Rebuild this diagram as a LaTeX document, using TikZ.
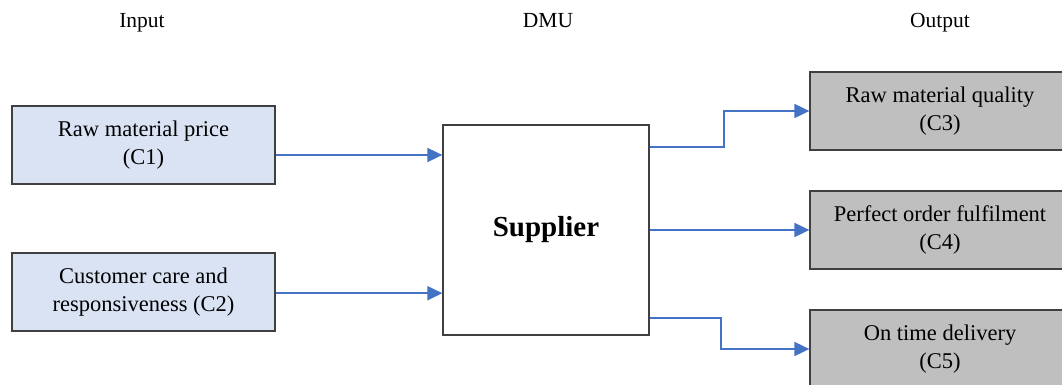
\documentclass[tikz,border=0pt]{standalone}
\usepackage{fontspec}
\setmainfont{Liberation Serif}
\usetikzlibrary{arrows.meta,positioning}
\definecolor{inblue}{HTML}{DAE3F3}
\definecolor{outgray}{HTML}{BFBFBF}
\definecolor{flowblue}{HTML}{4472C4}
\definecolor{edge}{HTML}{404040}
\tikzset{
  crit/.style={draw=edge,line width=1.3pt,align=center,inner sep=0pt,
    minimum height=78pt,font=\fontsize{22.5}{28.5}\selectfont},
  inbox/.style={crit,fill=inblue,minimum width=263pt},
  outbox/.style={crit,fill=outgray,minimum width=260pt},
  dmubox/.style={draw=edge,line width=1.3pt,fill=white,minimum width=206pt,
    minimum height=210pt,font=\fontsize{29}{34}\selectfont\bfseries},
  head/.style={anchor=base,font=\fontsize{21.5}{26}\selectfont},
  flow/.style={draw=flowblue,line width=1.8pt,-{Triangle[length=15pt,width=14pt]},
    flowblue}
}
\begin{document}
\begin{tikzpicture}[x=1pt,y=1pt]
  \clip (0,0) rectangle (1062,385);
  \fill[white] (0,0) rectangle (1062,385);

  \node (hin)  [head] at (142,357) {Input};
  \node (hdmu) [head] at (548,357) {DMU};
  \node (hout) [head] at (940,357) {Output};

  \node (c1) [inbox] at (143.5,240) {Raw material price\\(C1)};
  \node (c2) [inbox, below of=c1, node distance=147pt] {Customer care and\\responsiveness (C2)};
  \node (sup) [dmubox] at (546,155) {Supplier};
  \node (c4) [outbox] at (940,155) {Perfect order fulfilment\\(C4)};
  \node (c3) [outbox, above of=c4, node distance=119pt] {Raw material quality\\(C3)};
  \node (c5) [outbox, below of=c4, node distance=119pt] {On time delivery\\(C5)};

  \draw [flow] ([yshift=-10pt]c1.east) -- ([yshift=-10pt]c1.east -| sup.west);
  \draw [flow] ([yshift=-1.2pt]c2.east) -- ([yshift=-1.2pt]c2.east -| sup.west);
  \draw [flow] ([yshift=83pt]sup.east) -- ++(74,0) |- (c3.west);
  \draw [flow] (sup.east) -- (c4.west);
  \draw [flow] ([yshift=-88pt]sup.east) -- ++(71,0) |- (c5.west);
\end{tikzpicture}
\end{document}
